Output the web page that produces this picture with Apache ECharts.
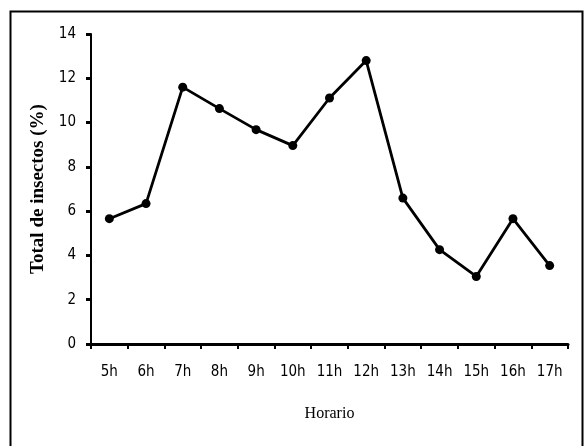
<!DOCTYPE html>
<html>
<head>
<meta charset="utf-8">
<script src="https://cdn.jsdelivr.net/npm/echarts@6/dist/echarts.min.js"></script>
<style>
html,body{margin:0;padding:0;background:#fff;}
#c{width:584px;height:446px;}
</style>
</head>
<body>
<div id="c"></div>
<script>
const categories = ['5h','6h','7h','8h','9h','10h','11h','12h','13h','14h','15h','16h','17h'];
const values = [5.66, 6.34, 11.6, 10.63, 9.68, 8.96, 11.11, 12.8, 6.59, 4.26, 3.05, 5.66, 3.54];
const yTicks = [0, 2, 4, 6, 8, 10, 12, 14];

const tickFont = "'DejaVu Sans Condensed', 'Liberation Sans', sans-serif";
const serif = "'Liberation Serif', 'DejaVu Serif', serif";

const chart = echarts.init(document.getElementById('c'), null, {renderer: 'canvas'});
chart.setOption({
  animation: false,
  backgroundColor: '#fff',
  graphic: [{
    type: 'rect',
    shape: {x: 10.5, y: 11.5, width: 572, height: 460},
    style: {fill: 'none', stroke: '#000', lineWidth: 2},
    silent: true
  }],
  grid: {left: 91, right: 16, top: 34, bottom: 102, containLabel: false},
  xAxis: {
    type: 'category',
    data: categories,
    boundaryGap: true,
    name: 'Horario',
    nameLocation: 'middle',
    nameGap: 62,
    nameTextStyle: {fontFamily: serif, fontSize: 16, color: '#000'},
    axisLine: {lineStyle: {color: '#000', width: 3}},
    axisTick: {show: true, inside: false, length: 5, lineStyle: {color: '#000', width: 2}, alignWithLabel: false},
    axisLabel: {fontFamily: tickFont, fontSize: 15, color: '#000', margin: 21, interval: 0},
    splitLine: {show: false}
  },
  yAxis: {
    type: 'value',
    min: yTicks[0],
    max: yTicks[yTicks.length - 1],
    interval: 2,
    name: 'Total de insectos (%)',
    nameLocation: 'middle',
    nameGap: 40,
    nameTextStyle: {fontFamily: serif, fontSize: 19, fontWeight: 'bold', color: '#000'},
    axisLine: {show: true, lineStyle: {color: '#000', width: 2}},
    axisTick: {show: true, inside: false, length: 5, lineStyle: {color: '#000', width: 3}},
    axisLabel: {fontFamily: tickFont, fontSize: 15, color: '#000', margin: 15},
    splitLine: {show: false}
  },
  series: [{
    type: 'line',
    data: values,
    symbol: 'circle',
    symbolSize: 9,
    itemStyle: {color: '#000'},
    lineStyle: {color: '#000', width: 2.8},
    z: 3
  }]
});
</script>
</body>
</html>
